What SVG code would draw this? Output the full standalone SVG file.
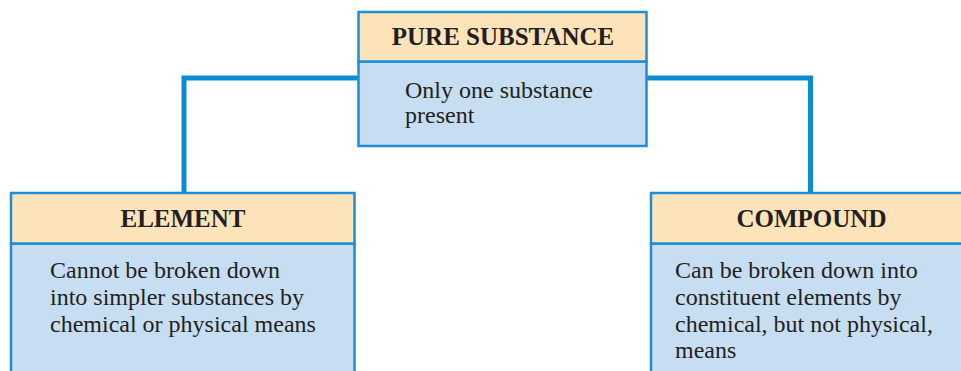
<svg xmlns="http://www.w3.org/2000/svg" width="961" height="371" viewBox="0 0 961 371">
<style>
.hd{fill:#FDE3BA;stroke:#1C8FD6;stroke-width:2.5}
.bd{fill:#C6DDF2;stroke:#1C8FD6;stroke-width:2.5}
.ht{font-family:'Liberation Serif','Times New Roman',serif;font-weight:bold;font-size:25px;fill:#231F20;text-anchor:middle}
.bt{font-family:'Liberation Serif','Times New Roman',serif;font-size:24px;fill:#231F20}
.cn{fill:none;stroke:#0A8BD3;stroke-width:5}
</style>
<rect width="961" height="371" fill="#fff"/>
<g id="connectors">
<path class="cn" d="M358 78 H184 V192"/>
<path class="cn" d="M646 78 H810.5 V192"/>
</g>
<g id="pure-substance">
<rect class="bd" x="358.5" y="61.5" width="288" height="84.5"/>
<rect class="hd" x="358.5" y="12" width="288" height="49.5"/>
<text class="ht" x="503" y="45">PURE SUBSTANCE</text>
<text class="bt" x="405" y="98">Only one substance</text>
<text class="bt" x="405" y="123">present</text>
</g>
<g id="element">
<rect class="bd" x="11" y="243.5" width="343.5" height="140"/>
<rect class="hd" x="11" y="193" width="343.5" height="50.5"/>
<text class="ht" x="183" y="227">ELEMENT</text>
<text class="bt" x="50" y="278">Cannot be broken down</text>
<text class="bt" x="50" y="305">into simpler substances by</text>
<text class="bt" x="50" y="331.5">chemical or physical means</text>
</g>
<g id="compound">
<rect class="bd" x="651" y="243.5" width="330" height="140"/>
<rect class="hd" x="651" y="193" width="330" height="50.5"/>
<text class="ht" x="811.5" y="227">COMPOUND</text>
<text class="bt" x="675" y="278">Can be broken down into</text>
<text class="bt" x="675" y="305">constituent elements by</text>
<text class="bt" x="675" y="331.5">chemical, but not physical,</text>
<text class="bt" x="675" y="358">means</text>
</g>
</svg>
